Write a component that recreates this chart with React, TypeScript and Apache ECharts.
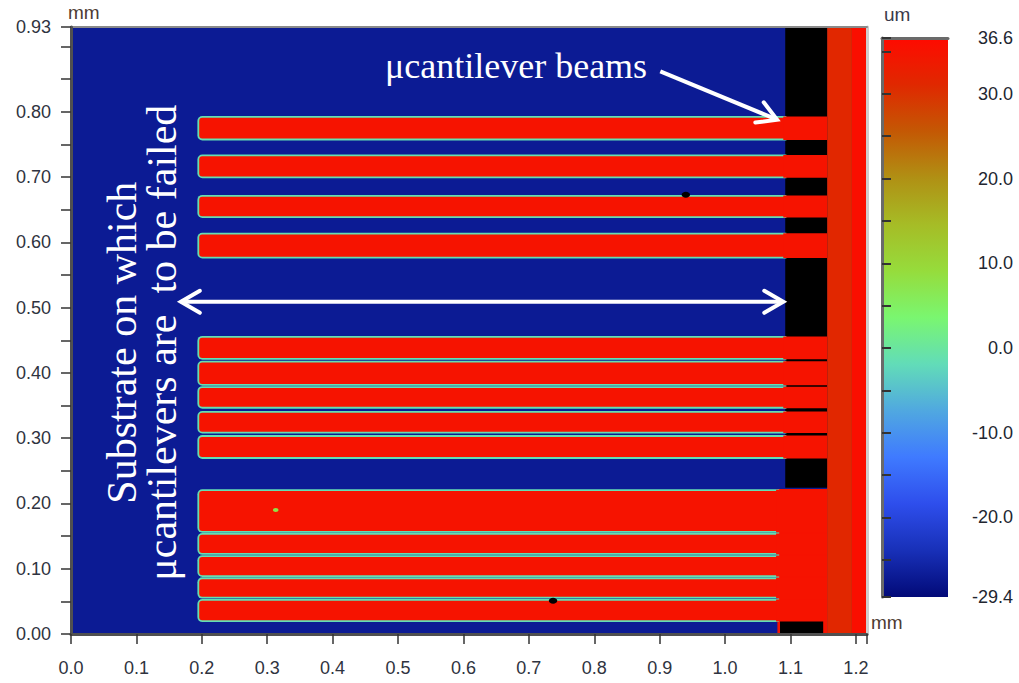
import React, { useEffect, useRef } from 'react';
import * as echarts from 'echarts';

// ---------- axes ----------
const xExtent = [0, 1.217];
const yExtent = [0, 0.93];
const zExtent = [-29.4, 36.6];
const xTickLabelValues = [0, 0.1, 0.2, 0.3, 0.4, 0.5, 0.6, 0.7, 0.8, 0.9, 1.0, 1.1, 1.2];
const xTickValues = [0, 0.1, 0.2, 0.3, 0.4, 0.5, 0.6, 0.7, 0.8, 0.9, 1.0, 1.1, 1.2, 1.217];
const yTickLabelValues = [0, 0.1, 0.2, 0.3, 0.4, 0.5, 0.6, 0.7, 0.8, 0.93];
const yTickValues = [0, 0.05, 0.1, 0.15, 0.2, 0.25, 0.3, 0.35, 0.4, 0.45, 0.5, 0.55, 0.6, 0.65, 0.7, 0.75, 0.8, 0.85, 0.9, 0.93];
const zTickLabelValues = [-29.4, -20, -10, 0, 10, 20, 30, 36.6];
const zTickValues = [-29.4, -25, -20, -15, -10, -5, 0, 5, 10, 15, 20, 25, 30, 35, 36.6];

// height colour scale (evenly spaced from -29.4 to 36.6 um)
const heightColors = [
  '#020a78', '#1830b8', '#2e4eec', '#3f7aff', '#50a8e0', '#62dcb8', '#7af670',
  '#96dc3c', '#a6bc26', '#b09014', '#c45804', '#e02800', '#ff0a00',
];

// ---------- surface (mm, um) ----------
const substrateHeight = -27;
const beamHeight = 35;
const beamEdgeHeight = -1.5;
const beamStartX = [0.196, 0.196, 0.196, 0.196, 0.196, 0.196, 0.196, 0.196, 0.196, 0.196, 0.196, 0.196, 0.196, 0.196];
const beamEdgeEndX = [1.091, 1.091, 1.091, 1.091, 1.091, 1.091, 1.091, 1.091, 1.091, 1.08, 1.08, 1.08, 1.08, 1.08];
const beamRootX = 1.156;
const beamBottom = [0.759, 0.701, 0.640, 0.578, 0.423, 0.383, 0.348, 0.310, 0.271, 0.158, 0.124, 0.090, 0.057, 0.021];
const beamTop = [0.791, 0.732, 0.670, 0.612, 0.454, 0.416, 0.377, 0.339, 0.302, 0.219, 0.152, 0.118, 0.084, 0.051];
// [x0, x1, y0, y1, height]
const supportBlocks = [
  [1.080, 1.156, 0, 0.222, 35],
  [1.156, 1.194, 0, 0.93, 31.2],
  [1.194, 1.217, 0, 0.93, 35.8],
];
// no-data regions [x0, x1, y0, y1]
const noDataRegions = [
  [1.092, 1.156, 0.224, 0.93],
  [1.084, 1.150, 0, 0.021],
];
// small surface defects [x, y, height]
const spotDefects = [
  [0.313, 0.190, 8],
];
// missing-data pits [x, y]
const pitDefects = [
  [0.94, 0.673],
  [0.737, 0.051],
];

// ---------- annotations ----------
// [x0, y0, x1, y1, doubleHeaded]
const arrows = [
  [0.901, 0.862, 1.0795, 0.788, 0],
  [0.168, 0.509, 1.089, 0.509, 1],
];
const labelTexts = ['\u03bccantilever beams', 'Substrate on which\n\u03bccantilevers are  to be failed'];
const labelPos = [[0.48, 0.871], [0.1086, 0.4463]];
const labelRotation = [0, Math.PI / 2];
const labelSize = [36, 42];
const labelAlign = ['left', 'center'];

const axisFont = 'Liberation Sans, Arial, sans-serif';
const serifFont = '"Liberation Serif", "Times New Roman", serif';

function rectRenderer(padX: number, padY: number, radius: number, fixedColor?: string) {
  return (params: any, api: any) => {
    const p0 = api.coord([api.value(0), api.value(3)]);
    const p1 = api.coord([api.value(1), api.value(2)]);
    return {
      type: 'rect',
      shape: {
        x: p0[0] - padX,
        y: p0[1] - padY,
        width: p1[0] - p0[0] + 2 * padX,
        height: p1[1] - p0[1] + 2 * padY,
        r: radius ? [radius, 0, 0, radius] : 0,
      },
      style: { fill: fixedColor || api.visual('color') },
    };
  };
}

function spotRenderer(r: number, fixedColor?: string) {
  return (params: any, api: any) => {
    const p = api.coord([api.value(0), api.value(1)]);
    return {
      type: 'ellipse',
      shape: { cx: p[0], cy: p[1], rx: r * 1.4, ry: r },
      style: { fill: fixedColor || api.visual('color') },
    };
  };
}

function arrowRenderer(params: any, api: any) {
  const a = api.coord([api.value(0), api.value(1)]);
  const b = api.coord([api.value(2), api.value(3)]);
  const both = api.value(4) === 1;
  const dx = b[0] - a[0];
  const dy = b[1] - a[1];
  const len = Math.sqrt(dx * dx + dy * dy);
  const ux = dx / len;
  const uy = dy / len;
  const nx = -uy;
  const ny = ux;
  const L = 19;
  const W = 11;
  const head = (t: number[], sx: number, sy: number) => ({
    type: 'polyline',
    shape: {
      points: [
        [t[0] - sx * L + nx * W, t[1] - sy * L + ny * W],
        [t[0], t[1]],
        [t[0] - sx * L - nx * W, t[1] - sy * L - ny * W],
      ],
    },
    style: { stroke: '#ffffff', lineWidth: 4, fill: 'none', lineJoin: 'miter', lineCap: 'round' },
  });
  const children: any[] = [
    {
      type: 'line',
      shape: { x1: a[0], y1: a[1], x2: b[0] - ux * 2, y2: b[1] - uy * 2 },
      style: { stroke: '#ffffff', lineWidth: 4 },
    },
    head(b, ux, uy),
  ];
  if (both) children.push(head(a, -ux, -uy));
  return { type: 'group', children };
}

function labelRenderer(params: any, api: any) {
  const i = params.dataIndex;
  const p = api.coord([api.value(0), api.value(1)]);
  return {
    type: 'text',
    x: p[0],
    y: p[1],
    rotation: labelRotation[i],
    style: {
      text: labelTexts[i],
      fill: '#ffffff',
      fontSize: labelSize[i],
      fontFamily: serifFont,
      align: labelAlign[i],
      verticalAlign: 'middle',
      lineHeight: 40,
    },
  };
}

function colorbarRenderer(params: any, api: any) {
  const p0 = api.coord([api.value(0), api.value(3)]);
  const p1 = api.coord([api.value(1), api.value(2)]);
  const n = heightColors.length;
  const stops = heightColors
    .map((c, k) => ({ offset: 1 - k / (n - 1), color: c }))
    .reverse();
  return {
    type: 'rect',
    shape: { x: p0[0], y: p0[1], width: p1[0] - p0[0], height: p1[1] - p0[1] },
    style: { fill: new echarts.graphic.LinearGradient(0, 0, 0, 1, stops) },
  };
}

const rectEncode = { x: [0, 1], y: [2, 3] };

const option: any = {
  animation: false,
  backgroundColor: '#ffffff',
  grid: [
    { left: 71, top: 27, width: 796, height: 607 },
    { left: 882, top: 38, width: 66, height: 559 },
  ],
  visualMap: [
    {
      type: 'continuous',
      show: false,
      min: zExtent[0],
      max: zExtent[1],
      dimension: 4,
      seriesIndex: [0, 1, 3, 4, 5],
      inRange: { color: heightColors },
    },
    {
      type: 'continuous',
      show: false,
      min: zExtent[0],
      max: zExtent[1],
      dimension: 2,
      seriesIndex: [6],
      inRange: { color: heightColors },
    },
  ],
  xAxis: [
    {
      type: 'value',
      gridIndex: 0,
      min: xExtent[0],
      max: xExtent[1],
      position: 'bottom',
      splitLine: { show: false },
      axisLine: { show: true, onZero: false, lineStyle: { color: '#505050', width: 3 } },
      axisTick: { show: true, length: 10, customValues: xTickValues, lineStyle: { color: '#333', width: 1.5 } },
      axisLabel: {
        customValues: xTickLabelValues,
        formatter: (v: number) => v.toFixed(1),
        fontFamily: axisFont,
        fontSize: 18,
        color: '#2f3340',
        margin: 25,
      },
      name: 'mm',
      nameLocation: 'end',
      nameGap: 4,
      nameTextStyle: { fontFamily: axisFont, fontSize: 19, color: '#4d3b33', align: 'left', verticalAlign: 'bottom', padding: [0, 0, 2, 0] },
      z: 10,
    },
    {
      type: 'value',
      gridIndex: 1,
      min: 0,
      max: 1,
      position: 'top',
      splitLine: { show: false },
      axisLine: { show: true, onZero: false, lineStyle: { color: '#6a6a6a', width: 3 } },
      axisTick: { show: false },
      axisLabel: { show: false },
      z: 10,
    },
    {
      type: 'value',
      gridIndex: 0,
      min: xExtent[0],
      max: xExtent[1],
      position: 'top',
      splitLine: { show: false },
      axisLine: { show: true, onZero: false, lineStyle: { color: '#8a8a8a', width: 2 } },
      axisTick: { show: false },
      axisLabel: { show: false },
      z: 9,
    },
  ],
  yAxis: [
    {
      type: 'value',
      gridIndex: 0,
      min: yExtent[0],
      max: yExtent[1],
      position: 'left',
      splitLine: { show: false },
      axisLine: { show: true, onZero: false, lineStyle: { color: '#505050', width: 3 } },
      axisTick: { show: true, length: 10, customValues: yTickValues, lineStyle: { color: '#333', width: 1.5 } },
      axisLabel: {
        customValues: yTickLabelValues,
        formatter: (v: number) => v.toFixed(2),
        fontFamily: axisFont,
        fontSize: 18,
        color: '#2f3340',
        margin: 20,
      },
      name: 'mm',
      nameLocation: 'end',
      nameGap: 5,
      nameTextStyle: { fontFamily: axisFont, fontSize: 19, color: '#4d3b33', align: 'left', padding: [0, 0, 0, -3] },
      z: 10,
    },
    {
      type: 'value',
      gridIndex: 1,
      min: zExtent[0],
      max: zExtent[1],
      position: 'right',
      splitLine: { show: false },
      axisLine: { show: false },
      axisTick: { show: true, length: 9, customValues: zTickValues, lineStyle: { color: '#333', width: 2 } },
      axisLabel: {
        customValues: zTickLabelValues,
        formatter: (v: number) => v.toFixed(1),
        fontFamily: axisFont,
        fontSize: 18,
        color: '#222630',
        align: 'right',
        margin: 65,
      },
      z: 10,
    },
    {
      type: 'value',
      gridIndex: 1,
      min: zExtent[0],
      max: zExtent[1],
      position: 'left',
      splitLine: { show: false },
      axisLine: { show: true, onZero: false, lineStyle: { color: '#6a6a6a', width: 3 } },
      axisTick: { show: false },
      axisLabel: { show: false },
      z: 10,
    },
    {
      type: 'value',
      gridIndex: 0,
      min: yExtent[0],
      max: yExtent[1],
      position: 'right',
      splitLine: { show: false },
      axisLine: { show: true, onZero: false, lineStyle: { color: '#cfcfcf', width: 3 } },
      axisTick: { show: false },
      axisLabel: { show: false },
      z: 9,
    },
  ],
  graphic: [
    {
      type: 'text',
      left: 884,
      top: 5,
      style: { text: 'um', fontFamily: axisFont, fontSize: 19, fill: '#3a3a4a' },
    },
  ],
  series: [
    {
      type: 'custom',
      name: 'substrate',
      xAxisIndex: 0,
      yAxisIndex: 0,
      encode: rectEncode,
      renderItem: rectRenderer(0, 0, 0),
      data: [[xExtent[0], xExtent[1], yExtent[0], yExtent[1], substrateHeight]],
      z: 1,
    },
    {
      type: 'custom',
      name: 'supports',
      xAxisIndex: 0,
      yAxisIndex: 0,
      encode: rectEncode,
      renderItem: rectRenderer(0, 0, 0),
      data: supportBlocks,
      z: 2,
    },
    {
      type: 'custom',
      name: 'no data',
      xAxisIndex: 0,
      yAxisIndex: 0,
      encode: rectEncode,
      renderItem: rectRenderer(0, 0, 0, '#000000'),
      data: noDataRegions,
      z: 3,
    },
    {
      type: 'custom',
      name: 'beam edges',
      xAxisIndex: 0,
      yAxisIndex: 0,
      encode: rectEncode,
      renderItem: rectRenderer(1.8, 1.8, 5),
      data: beamTop.map((t, i) => [beamStartX[i], beamEdgeEndX[i], beamBottom[i], t, beamEdgeHeight]),
      z: 4,
    },
    {
      type: 'custom',
      name: 'beams',
      xAxisIndex: 0,
      yAxisIndex: 0,
      encode: rectEncode,
      renderItem: rectRenderer(0, 0, 3),
      data: beamTop.map((t, i) => [beamStartX[i], beamEdgeEndX[i], beamBottom[i], t, beamHeight]),
      z: 5,
    },
    {
      type: 'custom',
      name: 'beam roots',
      xAxisIndex: 0,
      yAxisIndex: 0,
      encode: rectEncode,
      renderItem: rectRenderer(0, 1.3, 0),
      data: beamTop.map((t, i) => [beamEdgeEndX[i] - 0.002, beamRootX, beamBottom[i], t, beamHeight]),
      z: 5,
    },
    {
      type: 'custom',
      name: 'spots',
      xAxisIndex: 0,
      yAxisIndex: 0,
      encode: { x: 0, y: 1 },
      renderItem: spotRenderer(2),
      data: spotDefects,
      z: 6,
    },
    {
      type: 'custom',
      name: 'pits',
      xAxisIndex: 0,
      yAxisIndex: 0,
      encode: { x: 0, y: 1 },
      renderItem: spotRenderer(3, '#000000'),
      data: pitDefects,
      z: 6,
    },
    {
      type: 'custom',
      name: 'arrows',
      xAxisIndex: 0,
      yAxisIndex: 0,
      renderItem: arrowRenderer,
      data: arrows,
      z: 7,
    },
    {
      type: 'custom',
      name: 'labels',
      xAxisIndex: 0,
      yAxisIndex: 0,
      renderItem: labelRenderer,
      data: labelPos,
      z: 8,
    },
    {
      type: 'custom',
      name: 'colorbar',
      xAxisIndex: 1,
      yAxisIndex: 1,
      encode: rectEncode,
      renderItem: colorbarRenderer,
      data: [[0, 1, zExtent[0], zExtent[1]]],
      z: 1,
    },
  ],
};

export default function App() {
  const ref = useRef<HTMLDivElement>(null);
  useEffect(() => {
    const chart = echarts.init(ref.current as HTMLDivElement, null, { renderer: 'svg' });
    chart.setOption(option);
    return () => chart.dispose();
  }, []);
  return (
    <div
      ref={ref}
      style={{ position: 'fixed', left: 0, top: 0, width: 1019, height: 683, background: '#ffffff' }}
    />
  );
}
